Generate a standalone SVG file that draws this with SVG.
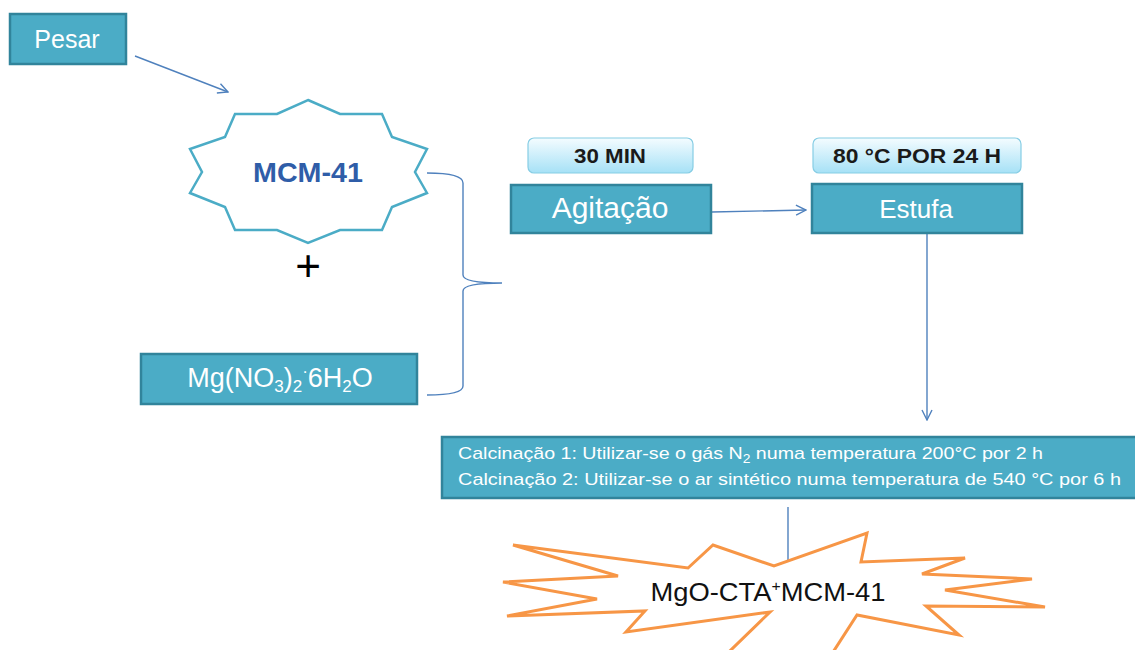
<svg xmlns="http://www.w3.org/2000/svg" width="1135" height="650" viewBox="0 0 1135 650">
<defs>
<style>
.box{fill:#4BACC6;stroke:#31849B;stroke-width:2.5}
.wt{fill:#fff;font-family:"Liberation Sans",Arial,sans-serif}
.lbl{stroke:#86CDE4;stroke-width:1.2}
.lt{fill:#1a1a1a;font-family:"Liberation Sans",Arial,sans-serif;font-weight:bold;font-size:20px;text-anchor:middle}
.con{fill:none;stroke:#4F81BD;stroke-width:1.4}
</style>
<linearGradient id="lg" x1="0" y1="0" x2="0" y2="1">
<stop offset="0" stop-color="#F4FCFF"/>
<stop offset="1" stop-color="#A6E1F6"/>
</linearGradient>
<marker id="arr" viewBox="0 0 12 12" refX="11" refY="6" markerWidth="12" markerHeight="12" markerUnits="userSpaceOnUse" orient="auto">
<path d="M1,1 L11,6 L1,11" fill="none" stroke="#4F81BD" stroke-width="1.4"/>
</marker>
</defs>
<rect width="1135" height="650" fill="#fff"/>

<g id="connectors">
<line class="con" x1="135" y1="56" x2="228" y2="92" marker-end="url(#arr)"/>
<path class="con" d="M427,173 Q463,173 463,183 L463,275 Q463,283 502,283 Q463,283 463,291 L463,386 Q463,395 427,395"/>
<line class="con" x1="712" y1="212" x2="806" y2="210" marker-end="url(#arr)"/>
<line class="con" x1="927" y1="233" x2="927" y2="420" marker-end="url(#arr)"/>
<line class="con" x1="788" y1="507" x2="788" y2="561"/>
</g>

<g id="pesar">
<rect class="box" x="10" y="14" width="116" height="50"/>
<text class="wt" x="67" y="48" font-size="25" text-anchor="middle">Pesar</text>
</g>

<g id="mcm41">
<polygon points="308,100 340,114 382,114 392,137 427,149 415,172 427,193 392,207 382,230 340,230 308,243 277,230 235,230 225,207 190,193 202,172 190,149 225,137 235,114 277,114" fill="#fff" stroke="#4BACC6" stroke-width="2.5" stroke-linejoin="miter"/>
<text x="308" y="182" font-family="'Liberation Sans',Arial,sans-serif" font-weight="bold" font-size="28" fill="#2F5DA8" text-anchor="middle" textLength="110" lengthAdjust="spacingAndGlyphs">MCM-41</text>
</g>

<g id="plus">
<text x="308" y="281" font-family="'Liberation Sans',Arial,sans-serif" font-size="44" fill="#000" text-anchor="middle">+</text>
</g>

<g id="mgno3">
<rect class="box" x="141" y="354" width="276" height="50"/>
<text class="wt" x="280" y="387" font-size="27" text-anchor="middle">Mg(NO<tspan font-size="17" dy="5">3</tspan><tspan dy="-5">)</tspan><tspan font-size="17" dy="5">2</tspan><tspan font-size="17" dy="-15">·</tspan><tspan dy="10">6H</tspan><tspan font-size="17" dy="5">2</tspan><tspan dy="-5">O</tspan></text>
</g>

<g id="label-30min">
<rect class="lbl" x="528" y="138" width="165" height="35" rx="6" fill="url(#lg)"/>
<text class="lt" x="610" y="163" textLength="72" lengthAdjust="spacingAndGlyphs">30 MIN</text>
</g>

<g id="agitacao">
<rect class="box" x="511" y="185" width="200" height="48"/>
<text class="wt" x="610" y="218" font-size="30" text-anchor="middle">Agitação</text>
</g>

<g id="label-80c">
<rect class="lbl" x="813" y="138" width="208" height="35" rx="6" fill="url(#lg)"/>
<text class="lt" x="917" y="163" textLength="168" lengthAdjust="spacingAndGlyphs">80 °C POR 24 H</text>
</g>

<g id="estufa">
<rect class="box" x="812" y="184" width="210" height="49"/>
<text class="wt" x="916" y="218" font-size="26" text-anchor="middle">Estufa</text>
</g>

<g id="calcinacao">
<rect class="box" x="442" y="437" width="710" height="61"/>
<text class="wt" x="458" y="459" font-size="17" textLength="585" lengthAdjust="spacingAndGlyphs">Calcinação 1: Utilizar-se o gás N<tspan font-size="12" dy="4">2</tspan><tspan dy="-4"> numa temperatura 200°C por 2 h</tspan></text>
<text class="wt" x="458" y="485" font-size="17" textLength="663" lengthAdjust="spacingAndGlyphs">Calcinação 2: Utilizar-se o ar sintético numa temperatura de 540 °C por 6 h</text>
</g>

<g id="product">
<polygon points="513,545 688,568 713,545 774,566 867,533 861,562 965,558 922,574 1032,579 945,590 1045,607 926,606 959,635 857,615 815,680 700,680 770,612 626,632 645,611 507,616 597,599 503,582 618,576" fill="#fff" stroke="#F79646" stroke-width="3" stroke-linejoin="miter"/>
<text x="768" y="601" font-family="'Liberation Sans',Arial,sans-serif" font-size="26" fill="#111" text-anchor="middle" textLength="235" lengthAdjust="spacingAndGlyphs">MgO-CTA<tspan font-size="15" dy="-10">+</tspan><tspan dy="10">MCM-41</tspan></text>
</g>
</svg>
